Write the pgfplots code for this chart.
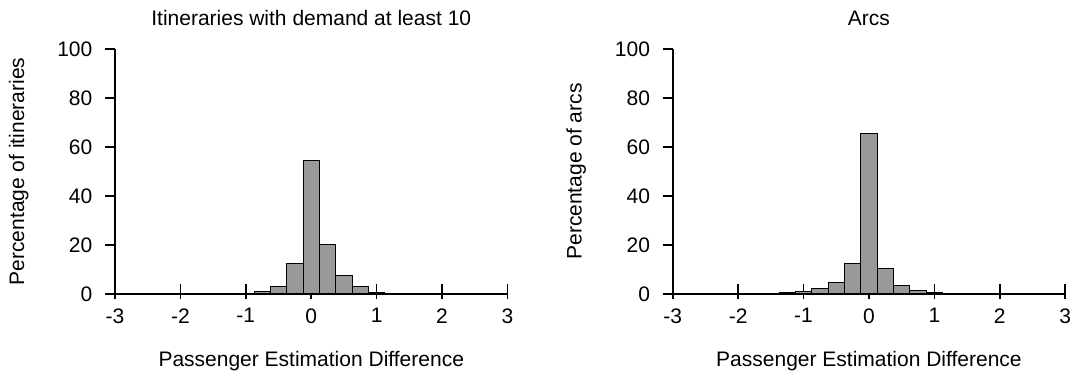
\documentclass[border=0pt]{standalone}
\usepackage{fontspec}
\setmainfont{Liberation Sans}
\usepackage{pgfplots}
\pgfplotsset{compat=1.18}
\definecolor{barfill}{RGB}{153,153,153}
\pgfplotsset{
 mybase/.style={
  scale only axis, width=392.5pt, height=245pt,
  xmin=-3, xmax=3, ymin=0, ymax=100,
  axis x line=bottom, axis y line=left,
  axis line style={-, line width=1.8pt, black},
  xtick={-3,...,3}, ytick={0,20,...,100},
  /pgf/number format/assume math mode=true,
  every tick/.append style={black, line width=1.6pt},
  every major tick/.append style={black, line width=1.6pt},
  tick label style={font=\fontsize{21}{25}\selectfont},
 },
 myhist/.style={
  mybase,
  major tick length=10pt,
  xtick align=inside, ytick align=outside,
  xticklabels={,,,,,,},
  yticklabel style={inner sep=0pt, anchor=east, xshift=-12.5pt},
  label style={font=\fontsize{21}{25}\selectfont},
  title style={font=\fontsize{21}{25}\selectfont, at={(axis description cs:0.5,1)}, anchor=base, yshift=17pt},
  xlabel style={at={(axis description cs:0.5,0)}, anchor=base, yshift=-72.7pt},
  ylabel style={at={(axis description cs:-0.2318,0.5)}, anchor=base},
  xlabel={Passenger Estimation Difference},
 },
 myxticks/.style={
  mybase,
  axis y line=none,
  major tick length=5pt,
  xtick align=outside,
  xticklabel style={inner sep=0pt, anchor=north, yshift=-9.3pt},
 },
}
\begin{document}
\begin{tikzpicture}
\path[use as bounding box] (0pt,0pt) rectangle (1075pt,372pt);
\begin{axis}[myhist, at={(115pt,78pt)}, anchor=south west,
  title={Itineraries with demand at least 10},
  ylabel={Percentage of itineraries}]
\addplot[ybar, bar width=0.25, bar shift=0pt, fill=barfill, draw=black, line width=1pt] coordinates {
(-1.5,0.15) (-1.25,0.15) (-1.0,0.35) (-0.75,1.1) (-0.5,3.0) (-0.25,12.4)
(0,54.6) (0.25,20.3) (0.5,7.6) (0.75,2.9) (1.0,0.8) (1.25,0.2)
};
\end{axis}
\begin{axis}[myxticks, at={(115pt,78pt)}, anchor=south west]
\end{axis}
\begin{axis}[myhist, at={(672.7pt,78pt)}, anchor=south west,
  title={Arcs},
  ylabel={Percentage of arcs}]
\addplot[ybar, bar width=0.25, bar shift=0pt, fill=barfill, draw=black, line width=1pt] coordinates {
(-1.75,0.15) (-1.5,0.25) (-1.25,0.5) (-1.0,1.2) (-0.75,2.4) (-0.5,4.8) (-0.25,12.5)
(0,65.4) (0.25,10.5) (0.5,3.5) (0.75,1.5) (1.0,0.5) (1.25,0.1)
};
\end{axis}
\begin{axis}[myxticks, at={(672.7pt,78pt)}, anchor=south west]
\end{axis}
\end{tikzpicture}
\end{document}
